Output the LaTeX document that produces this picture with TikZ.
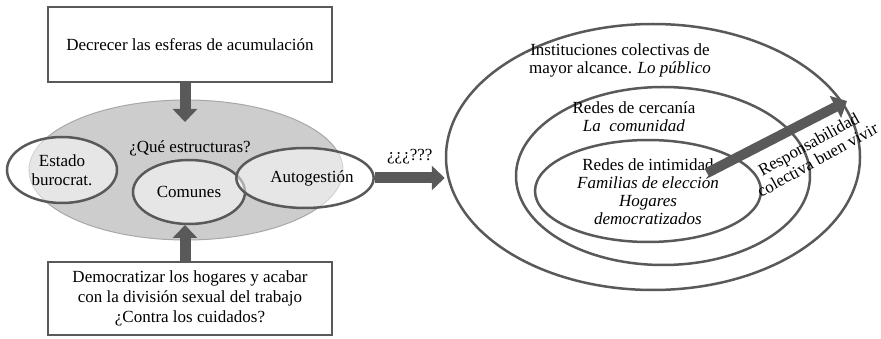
\documentclass[tikz,border=0pt]{standalone}
\usepackage{fontspec}
\setmainfont{Liberation Serif}
\usetikzlibrary{shapes.geometric,arrows.meta,positioning}
\definecolor{darkgr}{HTML}{595959}
\definecolor{midgr}{HTML}{CDCDCD}
\definecolor{rimgr}{HTML}{A8A8A8}
\begin{document}
\begin{tikzpicture}[
        x=1pt, y=-1pt,
        box/.style={draw=darkgr, line width=2pt, minimum width=284pt, align=center, font=\fontsize{17}{20}\selectfont},
        ring/.style={ellipse, draw=darkgr, line width=2.5pt, inner sep=0pt},
        part/.style={ring, fill=white, fill opacity=.5, text opacity=1, align=center, font=\fontsize{17}{19}\selectfont},
        txt/.style={align=center, text=black, font=\fontsize{17}{18}\selectfont},
        bigarrow/.style={darkgr, line width=11pt, -{Triangle[width=24pt, length=13pt]}},
    ]
    \useasboundingbox (0, 0) rectangle (881, 339);

    % left side
    \node[box, minimum height=75pt] (decrecer) at (190, 44.5) {Decrecer las esferas de acumulación};
    \node[box, minimum height=73pt] (democ) at (190, 298.5)
        {Democratizar los hogares y acabar\\con la división sexual del trabajo\\¿Contra los cuidados?};

    \node[ellipse, fill=midgr, draw=rimgr, line width=1pt, minimum width=314pt, minimum height=140pt] (estruct) at (186, 170) {};
    \node[txt] (quest) at (190, 148) {¿Qué estructuras?};
    \node[part, minimum width=110pt, minimum height=66pt] (estado) at (62, 170) {Estado\\burocrat.};
    \node[part, minimum width=112pt, minimum height=64pt] (comunes) at (189, 192) {Comunes};
    \node[part, minimum width=106pt, minimum height=60pt] (autog) at (305, 178) {\hspace*{14pt}Autogestión};

    \draw[bigarrow] (decrecer.south -| 185, 0) -- (185, 122);
    \draw[bigarrow] (democ.north -| 185, 0) -- (185, 225);

    % right side
    \node[ring, minimum width=414pt, minimum height=266pt] (publico) at (653, 157) {};
    \node[ring, minimum width=294pt, minimum height=178pt] (cercania) at (663, 176) {};
    \node[ring, minimum width=226pt, minimum height=102pt] (intimidad) at (648, 191) {};

    \node[txt] (publicotxt) at (620, 60) {Instituciones colectivas de\\mayor alcance. \textit{Lo público}};
    \node[txt] (cercaniatxt) at (634, 117) {Redes de cercanía\\\textit{La\ \ comunidad}};
    \node[txt] (intimidadtxt) at (648, 192) {Redes de intimidad\\\textit{Familias de elección}\\\textit{Hogares}\\\textit{democratizados}};

    \draw[bigarrow] (autog.east) -- (autog.east -| publico.west) node[midway, above=5pt, txt] (dudas) {¿¿¿???};

    \coordinate (respstart) at (707, 173);
    \coordinate (respend) at (847, 101);
    \draw[bigarrow, line width=10pt] (respstart) -- (respend);
    \node[txt, rotate=29] (resp) at (813, 152) {Responsabilidad\\colectiva buen vivir};
\end{tikzpicture}
\end{document}
